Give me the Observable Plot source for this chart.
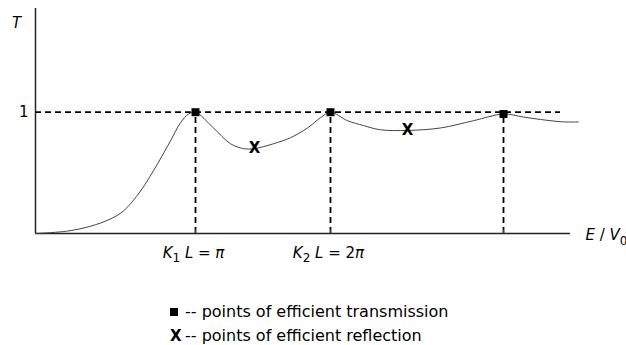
<!DOCTYPE html>
<html><head><meta charset="utf-8">
<script src="https://cdn.jsdelivr.net/npm/d3@7"></script>
<script src="https://cdn.jsdelivr.net/npm/@observablehq/plot@0.6"></script>
<style>
html,body{margin:0;padding:0;background:#fff;overflow:hidden;width:626px;height:345px;}
#legend{font-family:"DejaVu Sans";font-size:16px;color:#000;margin-top:30px;padding-left:170px;line-height:24px;}
#legend .mk{display:inline-block;width:15px;}
#legend .sq{display:inline-block;width:8px;height:8px;background:#000;vertical-align:1px;}
#legend .x{font-weight:bold;font-size:15px;}
</style></head><body><div id="chart"></div><div id="legend"></div>
<script>
// Transmission curve T(E/V0) (arbitrary E units)
const curveE = [0, 0.64, 1.1, 1.5, 1.76, 2.1, 2.44, 2.7, 2.9, 3.06, 3.2, 3.56, 3.9, 4.16, 4.38, 4.76, 5.1, 5.44, 5.7, 5.9, 6.24, 6.56, 6.9, 7.44, 8.1, 8.76, 9.36, 9.76, 10.1, 10.56, 10.86];
const curveT = [0, 0.02, 0.06, 0.12, 0.186, 0.35, 0.574, 0.764, 0.913, 0.985, 1.0, 0.87, 0.74, 0.70, 0.70, 0.74, 0.79, 0.87, 0.955, 1.0, 0.93, 0.89, 0.855, 0.85, 0.87, 0.93, 0.985, 0.96, 0.94, 0.92, 0.92];
// points of efficient transmission
const transE = [3.2, 5.9, 9.36];
const transT = [1.0, 1.0, 0.985];
// points of efficient reflection
const reflE = [4.38, 7.44];
const reflT = [0.70, 0.85];
// x tick labels K_n L = ...
const tickE = [3.2, 5.9];
const tickSub = ["1", "2"];
const tickRhs = ["π", "2π"];
const yTicks = [1];
const xLabel = ["E", "V", "0"];
const legendItems = ["-- points of efficient transmission", "-- points of efficient reflection"];

const curve = curveE.map((e, i) => ({e, t: curveT[i]}));
const trans = transE.map((e, i) => ({e, t: transT[i]}));
const refl = reflE.map((e, i) => ({e, t: reflT[i]}));
const tickLabel = i => "K" + tickSub[i] + " L = " + tickRhs[i];
const ticks = tickE.map((e, i) => ({e, label: tickLabel(i)}));
const xLabelText = xLabel[0] + " / " + xLabel[1] + xLabel[2];

const XMAX = 10.7, YMAX = 1.855;
const dash = {stroke: "#000", strokeWidth: 1.8, strokeDasharray: "6,4"};

const chart = Plot.plot({
  width: 626, height: 270,
  marginLeft: 35, marginRight: 56, marginTop: 8, marginBottom: 37,
  style: {fontFamily: "DejaVu Sans", fontSize: "15px", background: "white", overflow: "visible", color: "#000"},
  x: {domain: [0, XMAX], axis: null},
  y: {domain: [0, YMAX], axis: null},
  marks: [
    Plot.ruleY(yTicks, {x1: 0, x2: 10.5, ...dash}),
    Plot.ruleX(trans, {x: "e", y1: 0, y2: "t", ...dash}),
    Plot.ruleY([0], {x1: 0, x2: XMAX, stroke: "#222", strokeWidth: 1.5}),
    Plot.ruleX([0], {y1: 0, y2: YMAX, stroke: "#222", strokeWidth: 1.5}),
    Plot.ruleX(transE, {y1: 0, y2: 0.03, stroke: "#444", strokeWidth: 1}),
    Plot.line(curve, {x: "e", y: "t", curve: "catmull-rom", stroke: "#444", strokeWidth: 1}),
    Plot.dot(trans, {x: "e", y: "t", symbol: "square", r: 4.5, fill: "#000", stroke: null}),
    Plot.text(refl, {x: "e", y: "t", text: () => "X", fontWeight: "bold", fontSize: 15, fill: "#000"}),
    Plot.text(yTicks, {x: 0, y: d => d, text: d => String(d), textAnchor: "end", dx: -7, fontSize: 15, fill: "#000"}),
    Plot.text(ticks, {x: "e", y: 0, text: "label", dy: 20, dx: -2, fontSize: 15, fill: "#000"}),
    Plot.text(["T"], {frameAnchor: "top-left", textAnchor: "middle", lineAnchor: "middle", dx: -19, dy: 15, fontStyle: "italic", fontSize: 15, fill: "#000"}),
    Plot.text([xLabelText], {frameAnchor: "bottom-right", textAnchor: "start", lineAnchor: "middle", dx: 15, dy: 2, fontSize: 15, fill: "#000"})
  ]
});
document.getElementById("chart").appendChild(chart);

// rich text: italics and subscripts
d3.select(chart).selectAll("text").each(function() {
  const txt = this.textContent;
  const t = d3.select(this);
  const k = tickSub.findIndex((s, i) => txt === tickLabel(i));
  if (k >= 0) {
    t.text(null);
    t.append("tspan").attr("font-style", "italic").text("K");
    t.append("tspan").attr("font-size", "12px").attr("dy", "4").text(tickSub[k]);
    t.append("tspan").attr("dy", "-4").attr("font-style", "italic").text(" L");
    t.append("tspan").text(" = ");
    const rhs = tickRhs[k];
    if (rhs.length > 1) t.append("tspan").text(rhs.slice(0, -1));
    t.append("tspan").attr("font-style", "italic").text(rhs.slice(-1));
  } else if (txt === xLabelText) {
    t.text(null);
    t.append("tspan").attr("font-style", "italic").text(xLabel[0]);
    t.append("tspan").text(" / ");
    t.append("tspan").attr("font-style", "italic").text(xLabel[1]);
    t.append("tspan").attr("font-size", "12px").attr("dy", "5").text(xLabel[2]);
  }
});

const lg = d3.select("#legend");
lg.append("div").call(div => { div.append("span").attr("class", "mk").append("span").attr("class", "sq"); div.append("span").text(legendItems[0]); });
lg.append("div").call(div => { div.append("span").attr("class", "mk x").text("X"); div.append("span").text(legendItems[1]); });
</script>
</body></html>
